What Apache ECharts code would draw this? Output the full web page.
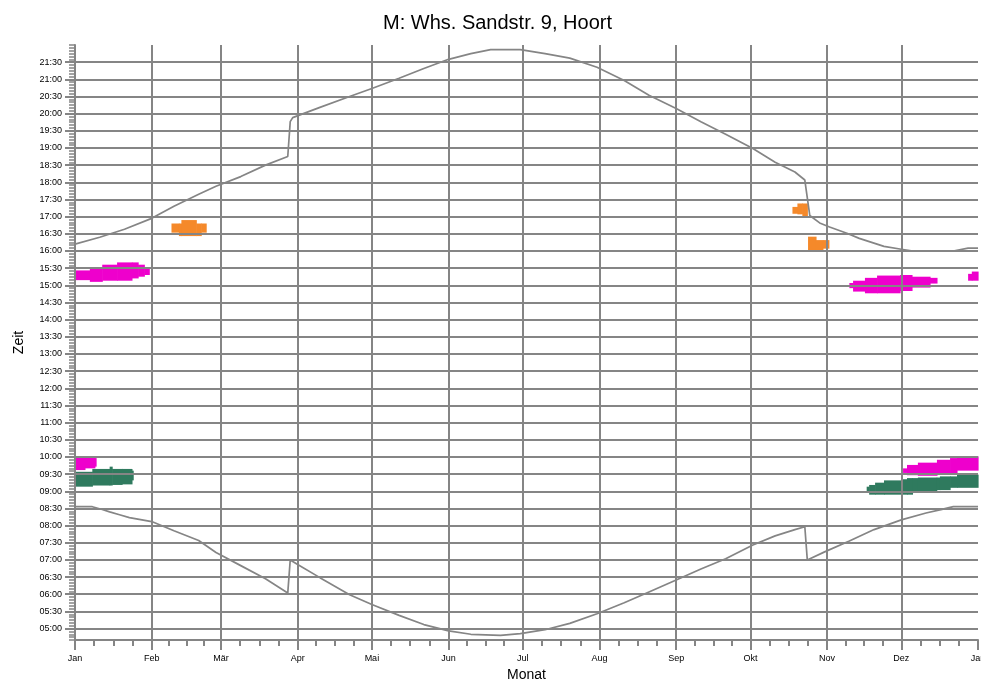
<!DOCTYPE html>
<html>
<head>
<meta charset="utf-8">
<script src="https://cdn.jsdelivr.net/npm/echarts@6/dist/echarts.min.js"></script>
<style>
html,body{margin:0;padding:0;background:#fff;}
#chart{width:981px;height:684px;}
</style>
</head>
<body>
<div id="chart"></div>
<script>
// ---- data (x = day of year 2015, y = minutes after midnight) ----
const monthNames = ['Jan','Feb','Mär','Apr','Mai','Jun','Jul','Aug','Sep','Okt','Nov','Dez','Jan'];
const monthStarts = [0,31,59,90,120,151,181,212,243,273,304,334,365];

// sunset curve [day, minutes]
const sunset = [
  [0,972],[10,984],[20,998],[31,1017],[40,1038],[50,1059],[57,1073],[67,1090],[77,1110],[86,1125],
  [87,1186],[88,1193],[99,1211],[111,1230],[120,1244],[131,1262],[141,1279],[151,1295],[160,1305],
  [168,1312],[180,1312],[190,1305],[200,1297],[211,1281],[222,1258],[232,1232],[243,1209],[253,1186],
  [263,1164],[274,1139],[283,1115],[291,1098],[295,1084],[297,1022],[301,1009],[305,1002],[312,991],
  [317,982],[327,968],[334,963],[338,960],[355,960],[361,965],[365,965]
];
// sunrise curve [day, minutes]
const sunrise = [
  [0,513],[7,513],[11,508],[14,504],[18,499],[22,494],[31,487],[40,471],[50,454],[57,433],[67,410],
  [77,387],[86,362],[87,420],[90,412],[99,389],[111,359],[120,342],[131,323],[141,307],[151,296],
  [160,290],[172,288],[180,291],[190,298],[200,309],[211,326],[222,345],[232,364],[243,385],[253,404],
  [263,422],[274,446],[283,462],[291,473],[295,478],[296,420],[303,434],[313,453],[323,473],[334,490],
  [344,502],[350,508],[355,513],[365,513]
];

// shaded patches [dayFrom, dayTo, minutesFrom, minutesTo]
const magentaPatches = [
  [0,6,909,926],[6,11,906,932],[11,17,908,936],[17,23,908,940],[23,25.5,912,940],[25.5,28,915,936],[28,30,918,932],
  [0,4,577,601],[4,8,580,601],[8,8.5,583,598],
  [313,314.5,895,904],[314.5,319.3,889,908],[319.3,324.2,886,913],[324.2,333.5,886,917],[333.5,338.3,890,918],[338.3,345.6,896,915],[345.6,348.4,903,913],
  [361,362.5,908,920],[362.5,365,908,924],
  [334.7,336.3,572,580],[336.3,340.7,568,586],[340.7,348.4,567,590],[348.4,353.7,570,595],[353.7,356.5,570,598],[356.5,365,576,601]
];
const greenPatches = [
  [0,7,548,574],[7,14,550,579],[14,15,550,583],[15,19,551,579],[19,23,552,579],[23,23.5,559,576],
  [320,321,537,548],[321,323.4,534,551],[323.4,327,534,555],[327,334.3,534,559],[334.3,336.3,534,561],[336.3,338.5,534,563],
  [338.5,340.7,540,563],[340.7,348.3,540,564],[348.3,349.6,542,564],[349.6,353.7,542,566],[353.7,356.5,546,566],[356.5,365,546,569]
];
const orangePatches = [
  [39,42,992,1008],[42,43,986,1008],[43,49,986,1014],[49,51,986,1008],[51,53,992,1008],
  [290,292,1025,1037],[292,294,1024,1043],[294,296,1018,1043],
  [296.3,299.5,960,985],[299.5,302.3,960,979],[302.3,304.7,964,979]
];

const yMin = 280, yMax = 1320;
const yLabelValues = [];
for (let m = 300; m <= 1290; m += 30) yLabelValues.push(m);

// quarter-month minor ticks derived from month starts
const minorX = [];
for (let i = 0; i < 12; i++) {
  const a = monthStarts[i], b = monthStarts[i+1];
  for (let k = 1; k < 4; k++) minorX.push(a + (b - a) * k / 4);
}

const GRAY = '#858585';
const FONT = 'Liberation Sans, Arial, Helvetica, sans-serif';

function fmtTime(v) {
  const h = Math.floor(v / 60), m = Math.round(v % 60);
  return (h < 10 ? '0' : '') + h + ':' + (m < 10 ? '0' : '') + m;
}

function patchSeries(data, color) {
  return {
    type: 'custom',
    xAxisIndex: 0, yAxisIndex: 0,
    z: 1,
    data: data,
    encode: { x: [0, 1], y: [2, 3] },
    renderItem: function (params, api) {
      const p0 = api.coord([api.value(0), api.value(3)]);
      const p1 = api.coord([api.value(1), api.value(2)]);
      return {
        type: 'rect',
        shape: { x: p0[0], y: p0[1], width: p1[0] - p0[0] + 0.6, height: p1[1] - p0[1] },
        style: { fill: color }
      };
    },
    silent: true
  };
}

const chart = echarts.init(document.getElementById('chart'), null, { renderer: 'canvas' });
chart.setOption({
  animation: false,
  backgroundColor: '#fff',
  title: {
    text: 'M: Whs. Sandstr. 9, Hoort',
    left: 378, top: 8,
    textStyle: { fontFamily: FONT, fontSize: 20, fontWeight: 'normal', color: '#000' }
  },
  grid: { left: 75, right: 3, top: 45, bottom: 44, containLabel: false, outerBoundsMode: 'none' },
  xAxis: [
    {
      type: 'value', min: 0, max: 365, position: 'bottom', z: 5,
      name: 'Monat', nameLocation: 'middle', nameGap: 27,
      nameTextStyle: { fontFamily: FONT, fontSize: 14, color: '#000' },
      axisLine: { show: true, onZero: false, lineStyle: { color: GRAY, width: 2 } },
      axisTick: { show: true, length: 10, customValues: monthStarts, lineStyle: { color: GRAY, width: 2 } },
      axisLabel: {
        show: true, customValues: monthStarts, margin: 14, hideOverlap: false,
        fontFamily: FONT, fontSize: 9, color: '#000',
        formatter: function (v) { const i = monthStarts.indexOf(v); return i >= 0 ? monthNames[i] : ''; }
      },
      splitLine: { show: true, showMinLine: false, showMaxLine: false, lineStyle: { color: GRAY, width: 2 } }
    },
    {
      type: 'value', min: 0, max: 365, position: 'bottom', offset: 0, z: 5,
      axisLine: { show: false, onZero: false },
      axisTick: { show: true, length: 6, customValues: minorX, lineStyle: { color: GRAY, width: 2 } },
      axisLabel: { show: false },
      splitLine: { show: false }
    }
  ],
  yAxis: [
    {
      type: 'value', min: yMin, max: yMax, position: 'left', z: 5,
      name: 'Zeit', nameLocation: 'middle', nameGap: 49, nameRotate: 90,
      nameTextStyle: { fontFamily: FONT, fontSize: 14, color: '#000' },
      axisLine: { show: true, onZero: false, lineStyle: { color: GRAY, width: 2 } },
      axisTick: { show: true, length: 10, customValues: yLabelValues, lineStyle: { color: GRAY, width: 2 } },
      axisLabel: {
        show: true, customValues: yLabelValues, margin: 13,
        fontFamily: FONT, fontSize: 9, color: '#000',
        formatter: fmtTime
      },
      splitLine: { show: true, lineStyle: { color: GRAY, width: 2 } }
    },
    {
      type: 'value', min: yMin, max: yMax, interval: 5, position: 'left', offset: 0, z: 5,
      axisLine: { show: false, onZero: false },
      axisTick: { show: true, length: 6, lineStyle: { color: GRAY, width: 1.5 } },
      axisLabel: { show: false },
      splitLine: { show: false }
    }
  ],
  series: [
    patchSeries(magentaPatches, '#ee00cc'),
    patchSeries(greenPatches, '#2f7a5e'),
    patchSeries(orangePatches, '#f5892a'),
    {
      type: 'line', name: 'Sonnenuntergang', data: sunset, showSymbol: false, symbol: 'none',
      xAxisIndex: 0, yAxisIndex: 0, z: 3,
      lineStyle: { color: GRAY, width: 1.7 }, silent: true
    },
    {
      type: 'line', name: 'Sonnenaufgang', data: sunrise, showSymbol: false, symbol: 'none',
      xAxisIndex: 0, yAxisIndex: 0, z: 3,
      lineStyle: { color: GRAY, width: 1.7 }, silent: true
    }
  ]
});
</script>
</body>
</html>
